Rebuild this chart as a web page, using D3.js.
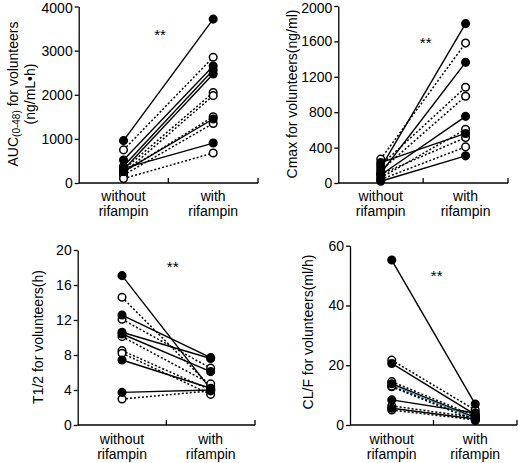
<!DOCTYPE html>
<html>
<head>
<meta charset="utf-8">
<script src="https://cdn.jsdelivr.net/npm/d3@7"></script>
<style>
  body { margin: 0; background: #fff; }
  svg { display: block; font-family: "Liberation Sans", Arial, sans-serif; }
</style>
</head>
<body>
<svg id="chart" width="518" height="463"></svg>
<script>
// ---------------- data ----------------
const categories = ["without rifampin", "with rifampin"];

// filled markers = solid lines, open markers = dotted lines
const aucFilledWithout = [960, 520, 380, 300, 260, 330];
const aucFilledWith    = [3714, 2650, 2560, 2470, 1450, 905];
const aucOpenWithout   = [750, 300, 220, 250, 180, 100];
const aucOpenWith      = [2850, 2050, 1980, 1500, 1350, 680];
const aucTicks = [0, 1000, 2000, 3000, 4000];

const cmaxFilledWithout = [170, 110, 90, 230, 20];
const cmaxFilledWith    = [1801, 1363, 753, 560, 307];
const cmaxOpenWithout   = [270, 200, 140, 60, 100, 40];
const cmaxOpenWith      = [1581, 1082, 981, 607, 513, 408];
const cmaxTicks = [0, 400, 800, 1200, 1600, 2000];

const t12FilledWithout = [17.07, 12.57, 10.6, 10.4, 7.43, 3.73];
const t12FilledWith    = [4.1, 7.7, 7.6, 6.1, 4.2, 4.0];
const t12OpenWithout   = [14.6, 12.08, 10.1, 8.5, 8.2, 2.97];
const t12OpenWith      = [4.4, 6.5, 4.7, 4.0, 3.5, 3.9];
const t12Ticks = [0, 4, 8, 12, 16, 20];

const clfFilledWithout = [55.2, 20.6, 13.8, 8.4, 5.6];
const clfFilledWith    = [7.0, 3.5, 2.5, 4.0, 2.0];
const clfOpenWithout   = [21.7, 14.5, 12.8, 6.4, 5.0, 13.0];
const clfOpenWith      = [5.0, 3.0, 1.5, 2.5, 1.7, 2.2];
const clfTicks = [0, 20, 40, 60];

const significance = "**";

// ---------------- layout ----------------
const svg = d3.select("#chart");

const panels = [
  { fw: aucFilledWithout, fv: aucFilledWith, ow: aucOpenWithout, ov: aucOpenWith, ticks: aucTicks,
    x: [78.7, 258], y: [183, 6.5], star: [160, 40], topShift: 1.5,
    label: [{ text: "AUC", sub: "(0-48)", rest: " for volunteers", cx: 14, cy: 94 },
            { text: "(ng/mL•h)", cx: 31, cy: 94 }], xlab: [201, 216] },
  { fw: cmaxFilledWithout, fv: cmaxFilledWith, ow: cmaxOpenWithout, ov: cmaxOpenWith, ticks: cmaxTicks,
    x: [338.3, 508], y: [183, 6], star: [425.7, 48], topShift: 2,
    label: [{ text: "Cmax for volunteers(ng/ml)", cx: 293, cy: 94 }], xlab: [201, 216] },
  { fw: t12FilledWithout, fv: t12FilledWith, ow: t12OpenWithout, ov: t12OpenWith, ticks: t12Ticks,
    x: [77.7, 255], y: [425, 250], star: [172.7, 272], topShift: 0,
    label: [{ text: "T1/2 for volunteers(h)", cx: 39, cy: 337 }], xlab: [444, 459] },
  { fw: clfFilledWithout, fv: clfFilledWith, ow: clfOpenWithout, ov: clfOpenWith, ticks: clfTicks,
    x: [350, 517], y: [425, 245.7], star: [436.7, 281], highlight: 2, topShift: 0,
    label: [{ text: "CL/F for volunteers(ml/h)", cx: 309, cy: 332 }], xlab: [444, 459] }
];

panels.forEach(p => {
  const g = svg.append("g");
  const xs = d3.scaleBand().domain(categories).range(p.x).padding(0);
  const ys = d3.scaleLinear().domain([p.ticks[0], p.ticks[p.ticks.length - 1]]).range(p.y);
  const cx = c => xs(c) + xs.bandwidth() / 2;

  // y axis
  const yAxis = d3.axisLeft(ys).tickValues(p.ticks).tickFormat(d3.format("d"))
    .tickSize(4).tickPadding(2).tickSizeOuter(0);
  const ya = g.append("g").attr("transform", `translate(${p.x[0]},0)`).call(yAxis);
  ya.select(".domain").attr("stroke", "#000").attr("stroke-width", 1.3);
  ya.selectAll(".tick line").attr("stroke", "#000").attr("stroke-width", 1.3);
  ya.selectAll(".tick text").attr("font-size", 14).attr("fill", "#000")
    .attr("font-family", "Liberation Sans, Arial, sans-serif");
  ya.selectAll(".tick text").filter(d => d === p.ticks[p.ticks.length - 1])
    .attr("y", p.topShift);

  // x axis (line with upward ticks at band boundaries)
  const y0 = p.y[0];
  g.append("line").attr("x1", p.x[0]).attr("x2", p.x[1]).attr("y1", y0).attr("y2", y0)
    .attr("stroke", "#000").attr("stroke-width", 1.3);
  g.selectAll(".xt").data(categories).enter().append("line")
    .attr("x1", c => xs(c) + xs.bandwidth()).attr("x2", c => xs(c) + xs.bandwidth())
    .attr("y1", y0).attr("y2", y0 - 5).attr("stroke", "#000").attr("stroke-width", 1.3);

  // x labels
  categories.forEach(c => {
    const parts = c.split(" ");
    parts.forEach((t, i) => {
      g.append("text").attr("x", cx(c)).attr("y", p.xlab[i]).attr("text-anchor", "middle")
        .attr("font-size", 14).text(t);
    });
  });

  // lines
  const pairs = [];
  p.ow.forEach((v, i) => pairs.push({ a: v, b: p.ov[i], filled: false, i }));
  p.fw.forEach((v, i) => pairs.push({ a: v, b: p.fv[i], filled: true, i }));
  g.selectAll(".pl").data(pairs).enter().append("line")
    .attr("x1", cx(categories[0])).attr("x2", cx(categories[1]))
    .attr("y1", d => ys(d.a)).attr("y2", d => ys(d.b))
    .attr("stroke", "#000").attr("stroke-width", d => d.filled ? 1.4 : 1.5)
    .attr("stroke-dasharray", d => d.filled ? null : "2,2");
  if (p.highlight !== undefined) {
    const d = pairs.filter(q => q.filled)[p.highlight];
    g.append("line").attr("x1", cx(categories[0]) + 1).attr("x2", cx(categories[1]) + 1)
      .attr("y1", ys(d.a) + 1.5).attr("y2", ys(d.b) + 1.5)
      .attr("stroke", "#3a9cc4").attr("stroke-width", 1);
  }

  // markers
  const pts = [];
  pairs.forEach(d => {
    pts.push({ x: cx(categories[0]), v: d.a, filled: d.filled });
    pts.push({ x: cx(categories[1]), v: d.b, filled: d.filled });
  });
  g.selectAll(".pt").data(pts).enter().append("circle")
    .attr("cx", d => d.x).attr("cy", d => ys(d.v)).attr("r", 3.8)
    .attr("fill", d => d.filled ? "#000" : "#fff")
    .attr("stroke", "#000").attr("stroke-width", 1.5);

  // significance
  g.append("text").attr("x", p.star[0]).attr("y", p.star[1]).attr("text-anchor", "middle")
    .attr("font-size", 15).text(significance);

  // y label
  p.label.forEach(l => {
    const t = g.append("text").attr("transform", `translate(${l.cx},${l.cy}) rotate(-90)`)
      .attr("text-anchor", "middle").attr("font-size", 14).attr("dominant-baseline", "middle");
    t.append("tspan").text(l.text);
    if (l.sub) {
      t.append("tspan").attr("font-size", 10).attr("dy", 3).text(l.sub);
      t.append("tspan").attr("dy", -3).text(l.rest);
    }
  });
});
</script>
</body>
</html>
